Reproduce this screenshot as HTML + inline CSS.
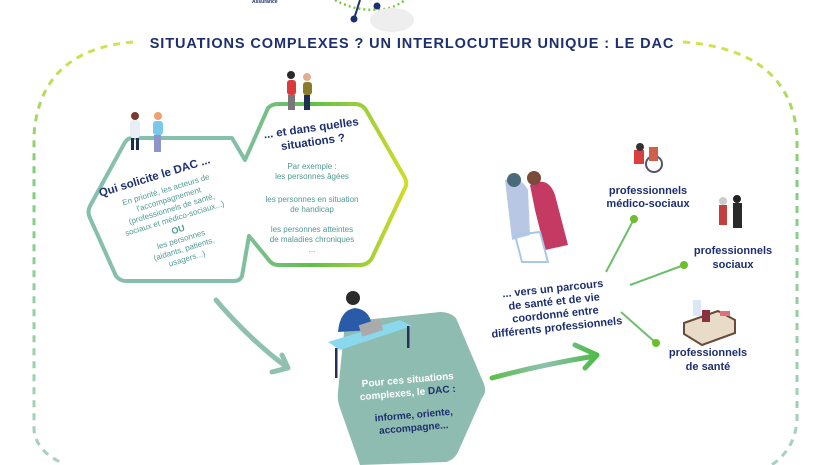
<!DOCTYPE html>
<html><head><meta charset="utf-8"><style>
html,body{margin:0;padding:0;background:#fff;}
svg{display:block;font-family:"Liberation Sans",sans-serif;}
.n{fill:#1d2f6f;font-weight:bold;}
.t{fill:#4f9a94;}
</style></head><body>
<svg width="827" height="465" viewBox="0 0 827 465" xmlns="http://www.w3.org/2000/svg">
<defs>
<linearGradient id="bd" x1="0" y1="0" x2="0" y2="1">
<stop offset="0" stop-color="#d6e24a"/><stop offset="0.3" stop-color="#7fcf7a"/><stop offset="1" stop-color="#a8d0c6"/></linearGradient>
<linearGradient id="hx" x1="0" y1="0" x2="1" y2="0">
<stop offset="0" stop-color="#86bfae"/><stop offset="0.45" stop-color="#86bfae"/><stop offset="0.7" stop-color="#5fbf4a"/><stop offset="1" stop-color="#d0dc2a"/></linearGradient>
<linearGradient id="ar" x1="0" y1="0" x2="1" y2="0">
<stop offset="0" stop-color="#5fbf4a"/><stop offset="0.5" stop-color="#8fc0b0"/><stop offset="1" stop-color="#4dbb45"/></linearGradient>
</defs>
<!-- top graphic -->
<path d="M335 0 Q360 14 390 8 Q400 4 405 0" fill="none" stroke="#7ac943" stroke-width="2.5" stroke-dasharray="2 3"/>
<line x1="360" y1="0" x2="354" y2="19" stroke="#1d2f6f" stroke-width="2"/>
<circle cx="354" cy="19" r="3.5" fill="#1d2f6f"/>
<circle cx="377" cy="6" r="3.5" fill="#1d2f6f"/>
<ellipse cx="392" cy="20" rx="22" ry="12" fill="#eeeeee"/>
<text x="252" y="3" font-size="5" class="n">Assurance</text>
<!-- dashed border -->
<path d="M133 42 Q40 50 34 135 L34 430 Q36 450 60 462" fill="none" stroke="url(#bd)" stroke-width="3" stroke-dasharray="7 6"/>
<path d="M683 42 Q790 50 797 135 L797 420 Q795 450 770 466" fill="none" stroke="url(#bd)" stroke-width="3" stroke-dasharray="7 6"/>
<text x="412" y="48" text-anchor="middle" font-size="14.5" class="n" letter-spacing="0.9">SITUATIONS COMPLEXES ? UN INTERLOCUTEUR UNIQUE : LE DAC</text>
<!-- double hexagon -->
<path d="M132 138 L232 138 L245 160 L268 108 Q272 104 278 104 L355 104 Q362 104 366 110 L405 178 Q408 184 404 190 L372 258 Q368 265 360 265 L278 265 Q272 265 268 259 L249 236 L242 276 Q240 281 234 281 L126 281 Q120 281 116 276 L90 218 Q87 212 90 206 L124 144 Q127 138 132 138 Z" fill="#fff" stroke="url(#hx)" stroke-width="4" stroke-linejoin="round"/>
<!-- left text rotated -->
<g transform="rotate(-17 170 210)" text-anchor="middle">
<text x="165" y="177" font-size="11.5" class="n">Qui solicite le DAC ...</text>
<g font-size="8" class="t">
<text x="172" y="192">En priorité, les acteurs de</text>
<text x="172" y="202">l'accompagnement</text>
<text x="172" y="212">(professionnels de santé,</text>
<text x="172" y="222">sociaux et médico-sociaux...)</text>
<text x="172" y="234" font-weight="bold" font-size="9">OU</text>
<text x="172" y="244">les personnes</text>
<text x="172" y="254">(aidants, patients,</text>
<text x="172" y="264">usagers...)</text>
</g></g>
<!-- right text -->
<g transform="rotate(-8 310 135)" text-anchor="middle">
<text x="312" y="132" font-size="11.5" class="n">... et dans quelles</text>
<text x="312" y="146" font-size="11.5" class="n">situations ?</text>
</g>
<g text-anchor="middle" font-size="8" class="t">
<text x="312" y="169">Par exemple :</text>
<text x="312" y="179">les personnes âgées</text>
<text x="312" y="202">les personnes en situation</text>
<text x="312" y="212">de handicap</text>
<text x="312" y="232">les personnes atteintes</text>
<text x="312" y="242">de maladies chroniques</text>
<text x="312" y="252">...</text>
</g>
<!-- people figures left -->
<g><rect x="130" y="120" width="10" height="18" rx="3" fill="#e8eef5"/><circle cx="135" cy="116" r="4" fill="#7a3b2e"/><rect x="131" y="138" width="3" height="12" fill="#1d2f4f"/><rect x="136" y="138" width="3" height="12" fill="#1d2f4f"/>
<rect x="153" y="121" width="10" height="14" rx="3" fill="#7ac9ea"/><circle cx="158" cy="116" r="4" fill="#f0a070"/><rect x="154" y="135" width="7" height="17" fill="#8b97c8"/></g>
<g><rect x="287" y="80" width="9" height="15" rx="3" fill="#d93a3a"/><circle cx="291" cy="75" r="4" fill="#2a2a2a"/><rect x="288" y="95" width="7" height="15" fill="#777"/>
<rect x="303" y="82" width="9" height="13" rx="3" fill="#8a7a2a"/><circle cx="307" cy="77" r="4" fill="#e0b090"/><rect x="304" y="95" width="6" height="15" fill="#1d2f4f"/></g>
<!-- left arrow -->
<path d="M216 300 Q250 340 288 368 L282 355 M288 368 L272 372" fill="none" stroke="#8fc0b0" stroke-width="5" stroke-dasharray="3 1" stroke-linecap="round"/>
<!-- bottom hexagon -->
<path d="M345 322 L440 312 Q450 312 456 318 L484 384 Q487 392 482 398 L458 452 Q454 460 446 462 L360 465 L340 408 Q337 400 338 392 Z" fill="#8fbcb0"/>
<!-- desk + person -->
<circle cx="353" cy="298" r="7" fill="#2b2b2b"/>
<path d="M338 332 Q340 310 355 308 Q372 310 372 330 Z" fill="#2a5ba8"/>
<path d="M328 342 L400 320 L412 326 L340 350 Z" fill="#8ad8ee"/>
<rect x="335" y="348" width="2.5" height="30" fill="#2a2f5a"/><rect x="407" y="326" width="2.5" height="22" fill="#2a2f5a"/>
<rect x="360" y="322" width="22" height="12" fill="#aaa" transform="rotate(-18 370 328)"/>
<g text-anchor="middle" font-size="10" font-weight="bold">
<text x="408" y="383" fill="#fff" transform="rotate(-5 408 383)">Pour ces situations</text>
<text x="408" y="396" fill="#fff" transform="rotate(-5 408 396)">complexes, le <tspan fill="#1d2f6f">DAC :</tspan></text>
<text x="414" y="418" fill="#1d2f6f" transform="rotate(-5 414 418)">informe, oriente,</text>
<text x="414" y="431" fill="#1d2f6f" transform="rotate(-5 414 431)">accompagne...</text>
</g>
<!-- right arrow -->
<path d="M492 378 Q540 365 595 356 M575 345 L597 355 L585 368" fill="none" stroke="url(#ar)" stroke-width="5" stroke-linecap="round" stroke-linejoin="round"/>
<!-- center-right text -->
<g text-anchor="middle" font-size="11" class="n" transform="rotate(-6 555 310)">
<text x="555" y="292">... vers un parcours</text>
<text x="555" y="305">de santé et de vie</text>
<text x="555" y="318">coordonné entre</text>
<text x="555" y="331">différents professionnels</text>
</g>
<!-- walker figure -->
<path d="M505 180 Q520 175 528 190 L530 235 L512 240 Z" fill="#b8c8e4"/>
<circle cx="514" cy="180" r="7" fill="#4a6a7a"/>
<path d="M530 185 Q548 175 555 195 L568 245 L545 250 L535 210 Z" fill="#c43a62"/>
<circle cx="534" cy="178" r="7" fill="#7a4a3a"/>
<path d="M515 235 L540 232 L548 262 L522 262 Z" fill="none" stroke="#a8c8e8" stroke-width="2"/>
<!-- connectors -->
<g stroke="#6cbf6a" stroke-width="2"><line x1="606" y1="272" x2="634" y2="219"/><line x1="630" y1="285" x2="684" y2="265"/><line x1="621" y1="312" x2="656" y2="343"/></g>
<g fill="#6cbf2a"><circle cx="634" cy="219" r="4"/><circle cx="684" cy="265" r="4"/><circle cx="656" cy="343" r="4"/></g>
<!-- icons -->
<g><rect x="634" y="150" width="10" height="14" fill="#d94040"/><circle cx="640" cy="147" r="4" fill="#333"/><circle cx="654" cy="164" r="8" fill="none" stroke="#556" stroke-width="2"/><rect x="649" y="147" width="9" height="14" fill="#d0604a"/></g>
<g><rect x="719" y="205" width="8" height="20" fill="#c04040"/><circle cx="723" cy="201" r="4" fill="#ccc"/><rect x="733" y="203" width="9" height="25" fill="#2a2a2a"/><circle cx="737" cy="199" r="4" fill="#222"/></g>
<g><path d="M684 323 L718 311 L735 320 L735 333 L702 345 L684 334 Z" fill="#e8dcc8" stroke="#6a4a3a" stroke-width="2"/><rect x="693" y="300" width="8" height="16" fill="#dbe8f4"/><rect x="702" y="310" width="8" height="12" fill="#8a3040"/><rect x="720" y="311" width="10" height="5" fill="#e07080"/></g>
<g text-anchor="middle" font-size="11" class="n">
<text x="648" y="194">professionnels</text><text x="648" y="207">médico-sociaux</text>
<text x="733" y="254">professionnels</text><text x="733" y="268">sociaux</text>
<text x="708" y="356">professionnels</text><text x="708" y="370">de santé</text>
</g>
</svg>
</body></html>
